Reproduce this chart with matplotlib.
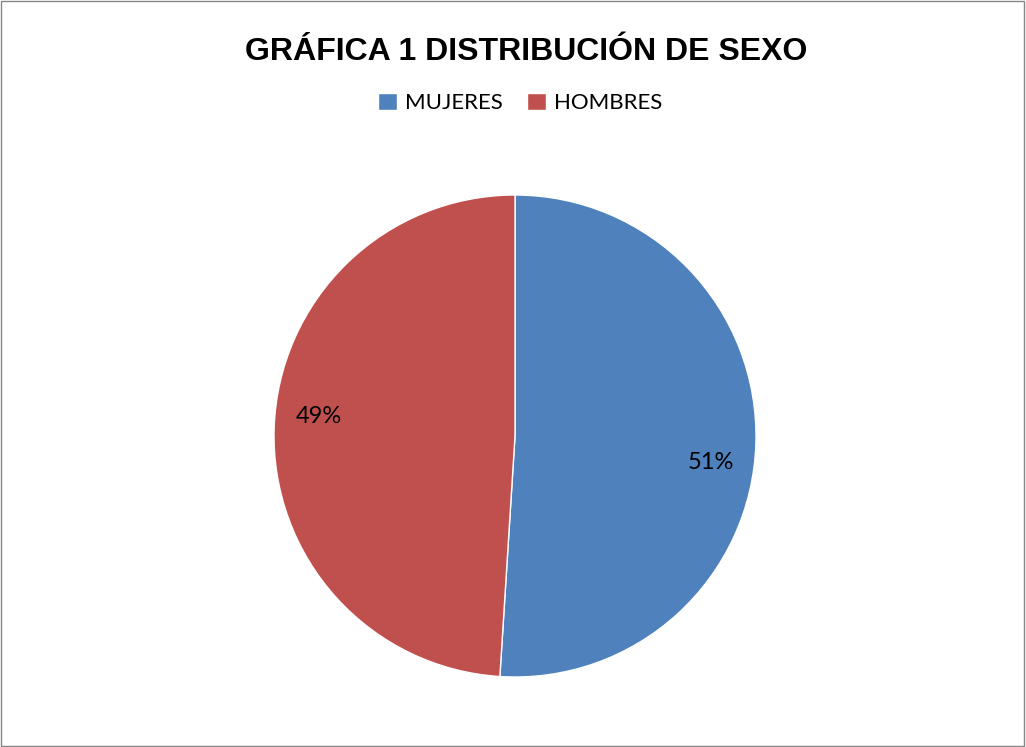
import numpy as np
import matplotlib.pyplot as plt
from matplotlib.patches import Rectangle

categories = ["MUJERES", "HOMBRES"]
values = [51, 49]
colors = ["#4F81BD", "#C0504D"]
title = "GRÁFICA 1 DISTRIBUCIÓN DE SEXO"

W, H = 1026, 747
fig = plt.figure(figsize=(W / 100, H / 100), dpi=100)

# pie centre ~(515, 436) px, radius ~241 px
cx, cy, r = 515, 436, 241
ax = fig.add_axes([(cx - r) / W, (H - cy - r) / H, 2 * r / W, 2 * r / H])
wedges, texts, autotexts = ax.pie(
    values, colors=colors, startangle=90, counterclock=False,
    autopct="%1.0f%%", pctdistance=0.82,
    wedgeprops=dict(edgecolor="white", linewidth=1),
    textprops=dict(fontsize=17, family="Lato", color="black"),
)
# Excel places the labels a little clockwise of the slice middle
for t, rot in zip(autotexts, [-6, -4]):
    x, y = t.get_position()
    a = np.deg2rad(rot)
    t.set_position((x * np.cos(a) - y * np.sin(a), x * np.sin(a) + y * np.cos(a)))
ax.set_xlim(-1, 1)
ax.set_ylim(-1, 1)
ax.set_aspect("equal")
ax.axis("off")

fig.text(526 / W, 1 - 52 / H, title, ha="center", va="center",
         fontsize=23, fontweight="bold", family="Liberation Sans")

fig.legend(wedges, categories, loc="center", bbox_to_anchor=(520 / W, 1 - 103 / H),
           ncol=2, frameon=False, prop=dict(family="Lato", size=16),
           handlelength=0.85, handleheight=0.85, handletextpad=0.35,
           columnspacing=1.1)

fig.patches.append(Rectangle((0.001, 0.001), 0.997, 0.997, transform=fig.transFigure,
                             fill=False, edgecolor="#868686", linewidth=1))

fig.savefig("out.png", dpi=100)
